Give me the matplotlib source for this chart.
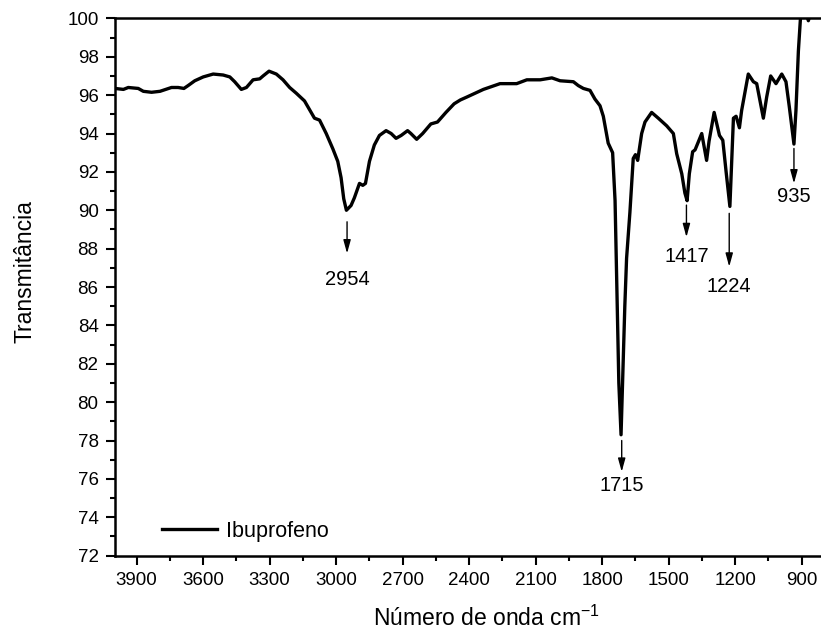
import numpy as np
import matplotlib
matplotlib.use("Agg")
import matplotlib.pyplot as plt
from matplotlib.ticker import MultipleLocator

# espectro FTIR do ibuprofeno (numero de onda, transmitancia)
numero_onda = [3998, 3960, 3938, 3893, 3870, 3833, 3795, 3743, 3713, 3687,
               3668, 3638, 3600, 3555, 3510, 3480, 3458, 3428, 3405, 3375,
               3345, 3330, 3303, 3270, 3240, 3210, 3180, 3143, 3113, 3098,
               3075, 3045, 3015, 2993, 2978, 2966, 2954, 2933, 2918, 2895,
               2880, 2868, 2850, 2828, 2805, 2775, 2752, 2730, 2707, 2678,
               2663, 2637, 2610, 2573, 2543, 2505, 2468, 2440, 2411, 2336,
               2261, 2186, 2140, 2080, 2027, 1990, 1930, 1908, 1885, 1855,
               1833, 1810, 1795, 1773, 1753, 1742, 1735, 1725, 1715, 1707,
               1698, 1690, 1675, 1660, 1650, 1640, 1622, 1607, 1577, 1547,
               1509, 1479, 1464, 1441, 1427, 1417, 1407, 1392, 1381, 1351,
               1329, 1318, 1295, 1271, 1256, 1241, 1224, 1208, 1196, 1181,
               1171, 1141, 1118, 1103, 1088, 1073, 1058, 1040, 1016, 990,
               971, 956, 935, 926, 915, 904, 890, 878, 870, 862,
               845, 810]
transmitancia = [96.35, 96.3, 96.4, 96.35, 96.2, 96.15, 96.2, 96.4, 96.4, 96.35,
                 96.5, 96.75, 96.95, 97.1, 97.05, 96.95, 96.7, 96.3, 96.4, 96.8,
                 96.85, 97.0, 97.25, 97.1, 96.8, 96.4, 96.1, 95.7, 95.1, 94.8,
                 94.7, 94.0, 93.2, 92.55, 91.7, 90.6, 90.0, 90.25, 90.65, 91.4,
                 91.3, 91.4, 92.55, 93.4, 93.9, 94.15, 94.0, 93.75, 93.9, 94.15,
                 94.0, 93.7, 94.0, 94.5, 94.6, 95.1, 95.55, 95.75, 95.9, 96.3,
                 96.6, 96.6, 96.8, 96.8, 96.9, 96.75, 96.7, 96.5, 96.35, 96.25,
                 95.8, 95.45, 94.9, 93.5, 93.0, 90.5, 86.5, 81.0, 78.3, 81.5,
                 85.0, 87.5, 89.9, 92.7, 92.9, 92.6, 94.0, 94.6, 95.1, 94.8,
                 94.4, 94.0, 92.95, 91.9, 90.9, 90.5, 91.9, 93.05, 93.15, 94.0,
                 92.6, 93.6, 95.1, 93.9, 93.65, 92.0, 90.2, 94.8, 94.9, 94.3,
                 95.2, 97.1, 96.7, 96.6, 95.7, 94.8, 95.9, 97.0, 96.6, 97.1,
                 96.7, 95.4, 93.45, 95.2, 98.3, 100.3, 100.8, 100.2, 99.88, 100.2,
                 100.7, 100.9]

# picos marcados: rotulo, posicao, inicio da seta, ponta da seta, centro do texto
picos_rotulo = ["2954", "1715", "1417", "1224", "935"]
picos_x = [2951, 1712, 1420, 1227, 935]
seta_inicio = [89.4, 78.0, 90.27, 89.84, 93.22]
seta_fim = [87.75, 76.37, 88.6, 87.06, 91.4]
texto_y = [86.4, 75.68, 87.6, 86.05, 90.7]

plt.rcParams["font.family"] = ["Liberation Sans", "DejaVu Sans"]
plt.rcParams["mathtext.fontset"] = "custom"
plt.rcParams["mathtext.rm"] = "Liberation Sans"
plt.rcParams["mathtext.it"] = "Liberation Sans"

fig = plt.figure(figsize=(8.21, 6.35), dpi=100)
ax = fig.add_axes([0.1395, 0.125, 0.864, 0.846])

ax.plot(numero_onda, transmitancia, color="black", lw=2.4, label="Ibuprofeno")

for rot, px, y0, y1, yt in zip(picos_rotulo, picos_x, seta_inicio, seta_fim, texto_y):
    ax.annotate("", xy=(px, y1), xytext=(px, y0),
                arrowprops=dict(arrowstyle="-|>,head_length=0.8,head_width=0.22",
                                color="black", lw=1.0, shrinkA=0, shrinkB=0))
    ax.text(px, yt, rot, ha="center", va="center", fontsize=14.5)

ax.set_xlim(4000, 800)
ax.set_ylim(72, 100)
ax.xaxis.set_major_locator(MultipleLocator(300))
ax.xaxis.set_minor_locator(MultipleLocator(150))
ax.yaxis.set_major_locator(MultipleLocator(2))
ax.yaxis.set_minor_locator(MultipleLocator(1))
ax.tick_params(which="major", direction="out", length=6.5, width=1.5,
               labelsize=13.5, pad=5)
ax.tick_params(which="minor", direction="out", length=3.5, width=1.5)
for lado in ["left", "bottom", "top", "right"]:
    ax.spines[lado].set_linewidth(1.8)

ax.set_xlabel("Número de onda cm$^{-1}$", fontsize=16.5)
ax.set_ylabel("Transmitância", fontsize=16.5)
ax.xaxis.set_label_coords(0.524, -0.094)
ax.yaxis.set_label_coords(-0.11, 0.528)

ax.legend(loc="lower left", bbox_to_anchor=(0.055, 0.01), frameon=False,
          fontsize=15.5, handlelength=2.55, handletextpad=0.4, borderaxespad=0)

fig.savefig("out.png", dpi=100)
